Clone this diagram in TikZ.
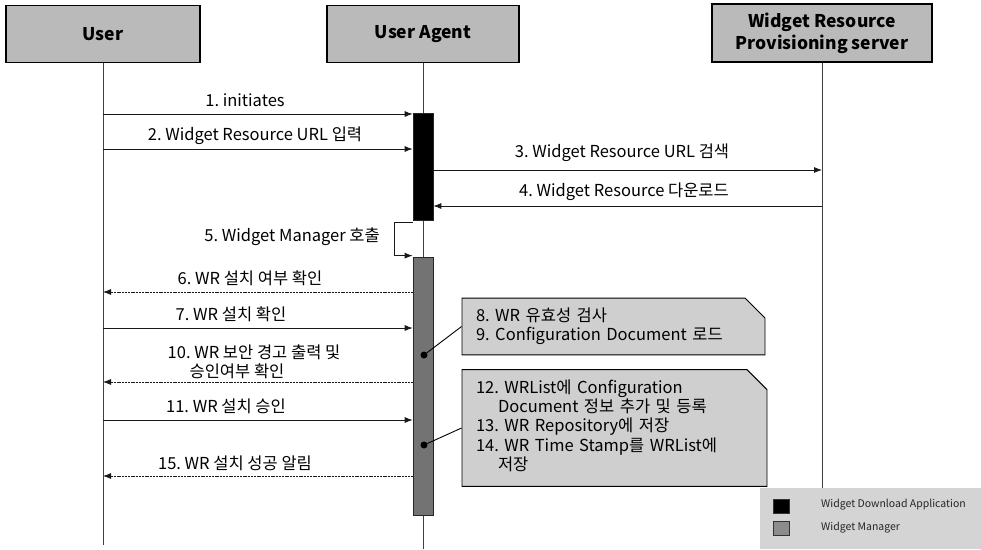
\documentclass[tikz,border=0pt]{standalone}
\usepackage{fontspec}
\setmainfont{Noto Sans CJK KR}
\usetikzlibrary{arrows.meta,shapes.misc}
\frenchspacing

\begin{document}
\begin{tikzpicture}[x=1pt,y=-1pt,
  every node/.style={inner sep=0pt, font=\fontsize{16.5}{19}\selectfont},
  head/.style={draw=black, line width=1.1pt, fill=black!27, font=\fontsize{17.5}{22}\selectfont\bfseries, align=center},
  life/.style={draw=black!75, line width=0.7pt},
  msg/.style={-{Latex[length=8pt,width=6pt]}, line width=0.8pt, draw=black!90},
  reply/.style={msg, dash pattern=on 2pt off 0.8pt},
  bar/.style={draw=black!85, line width=0.7pt, minimum width=20pt},
  notebox/.style={chamfered rectangle, chamfered rectangle corners=north east,
    chamfered rectangle xsep=10pt, chamfered rectangle ysep=10pt,
    draw=black, line width=0.9pt, fill=black!19, inner xsep=4pt, inner ysep=0pt, align=left},
  dot/.style={circle, fill=black, minimum size=7pt},
  lbl/.style={font=\fontsize{16.5}{19}\selectfont},
  legtext/.style={anchor=west, text=black!85, font=\fontsize{10.5}{13}\selectfont},
]
\useasboundingbox (0,0) rectangle (981,549);

% participants
\node[head, minimum width=194pt, minimum height=57pt] (user) at (103,34) {User};
\node[head, minimum width=192pt, minimum height=57pt] (ua) at (423,34) {User Agent};
\node[head, minimum width=220pt, minimum height=58pt] (wrp) at (822,33) {Widget Resource\\Provisioning server};

% lifelines
\coordinate (userEnd) at (103,545);
\coordinate (uaEnd) at (423,549);
\coordinate (wrpEnd) at (822,488);
\draw[life] (user.south) -- (userEnd);
\draw[life] (ua.south) -- (uaEnd);
\draw[life] (wrp.south) -- (wrpEnd);

% activation bars
\node[bar, fill=black, minimum height=107pt] (dl) at (423,166.5) {};
\node[bar, fill=black!55, minimum height=258pt] (wm) at (423,386) {};

% messages
\coordinate (u1) at (103,114);
\coordinate (u2) at (103,149);
\coordinate (w3) at (822,170);
\coordinate (w4) at (822,206);
\coordinate (u6) at (103,292);
\coordinate (u7) at (103,328);
\coordinate (u10) at (103,382);
\coordinate (u11) at (103,420);
\coordinate (u15) at (103,476);

\draw[msg] (u1) -- (u1 -| dl.west);
\node[lbl] (l1) at (245,100) {1. initiates};
\draw[msg] (u2) -- (u2 -| dl.west);
\node[lbl] (l2) at (255,136) {2. Widget Resource URL 입력};
\draw[msg] (w3 -| dl.east) -- (w3);
\node[lbl] (l3) at (622,153) {3. Widget Resource URL 검색};
\draw[msg] (w4) -- (w4 -| dl.east);
\node[lbl] (l4) at (624,192) {4. Widget Resource 다운로드};

% self call
\draw[msg] ([yshift=-2pt]dl.south west) -- ++(-18,0) |- ([yshift=1pt]wm.north west);
\node[lbl, anchor=east] (l5) at (380,237) {5. Widget Manager 호출};

\draw[reply] (u6 -| wm.west) -- (u6);
\node[lbl] (l6) at (250,278) {6. WR 설치 여부 확인};
\draw[msg] (u7) -- (u7 -| wm.west);
\node[lbl] (l7) at (231,314) {7. WR 설치 확인};
\draw[reply] (u10 -| wm.west) -- (u10);
\node[lbl] (l10a) at (254,352) {10. WR 보안 경고 출력 및};
\node[lbl] (l10b) at (237,371) {승인여부 확인};
\draw[msg] (u11) -- (u11 -| wm.west);
\node[lbl] (l11) at (226,406) {11. WR 설치 승인};
\draw[reply] (u15 -| wm.west) -- (u15);
\node[lbl] (l15) at (235,463) {15. WR 설치 성공 알림};

% notes
\node[notebox, minimum height=55pt, text width=275pt] (n1) at (613.5,326.5)
  {8. WR 유효성 검사\\9. Configuration Document 로드};
\node[notebox, minimum height=116pt, text width=277pt] (n2) at (614.5,428)
  {\begin{tabular}{@{}l@{}}
   12. WRList에 Configuration\\
   \hspace{22pt}Document 정보 추가 및 등록\\
   13. WR Repository에 저장\\
   14. WR Time Stamp를 WRList에\\
   \hspace{22pt}저장
   \end{tabular}};
\node[dot] (d1) at (424,355) {};
\node[dot] (d2) at (424,445) {};
\draw[line width=0.9pt] (d1) -- (n1.west);
\draw[line width=0.9pt] (d2) -- (n2.west);

% legend
\node[fill=black!17, minimum width=221pt, minimum height=61pt, anchor=north west] (leg) at (760,488) {};
\node[draw=black!80, fill=black, minimum width=16pt, minimum height=14pt] (k1) at (781,506) {};
\node[draw=black!80, fill=black!45, minimum width=16pt, minimum height=14pt] (k2) at (781,528) {};
\node[legtext] (t1) at (821,505) {Widget Download Application};
\node[legtext] (t2) at (821,528) {Widget Manager};
\end{tikzpicture}
\end{document}
